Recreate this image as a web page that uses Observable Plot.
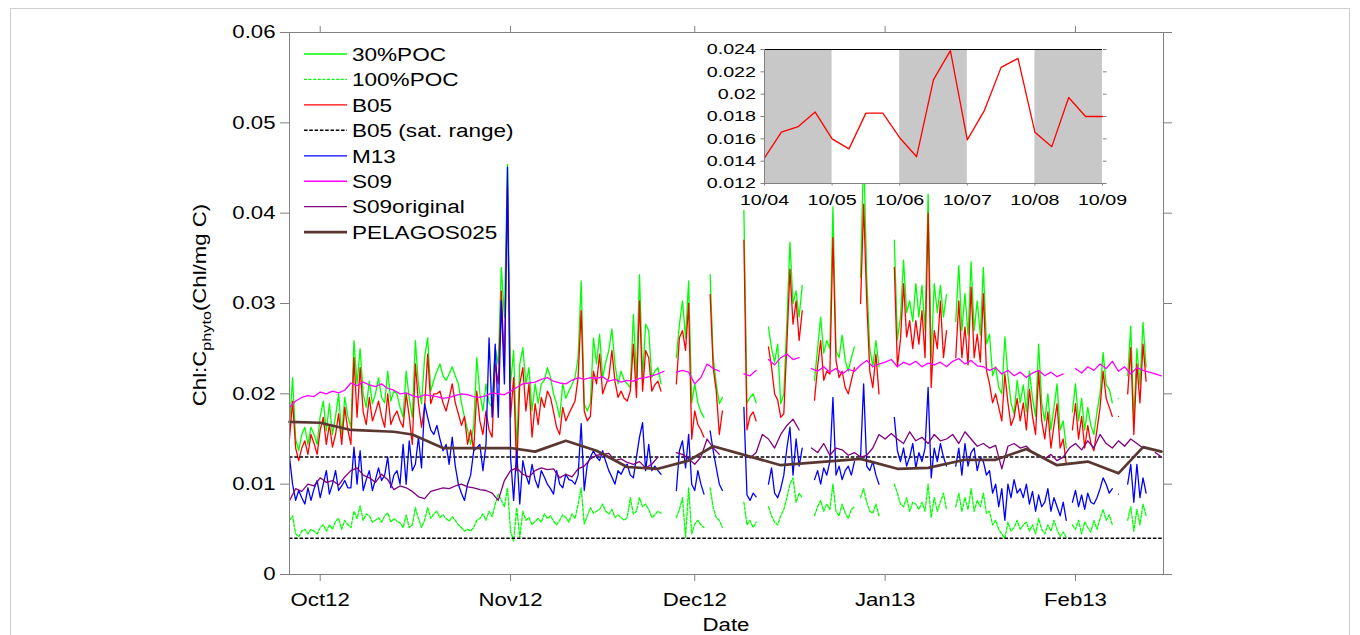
<!DOCTYPE html>
<html>
<head>
<meta charset="utf-8">
<script src="https://cdn.jsdelivr.net/npm/d3@7"></script>
<script src="https://cdn.jsdelivr.net/npm/@observablehq/plot@0.6"></script>
<style>
  html, body { margin:0; padding:0; background:#fff; overflow:hidden; }
  #wrap { position:relative; width:1360px; height:635px; overflow:hidden; background:#fff;
          font-family:"Liberation Sans", Arial, Helvetica, sans-serif; }
  #border { position:absolute; left:10px; top:8px; width:1340px; height:700px; border:1px solid #cfcfcf; box-sizing:border-box; }
  #main { position:absolute; left:0; top:0; }
  #overlay { position:absolute; left:0; top:0; pointer-events:none; }
  #inset { position:absolute; left:704px; top:43px; }
</style>
</head>
<body>
<div id="wrap">
  <div id="border"></div>
  <div id="main"></div>
  <svg id="overlay" width="1360" height="635"></svg>
  <div id="inset"></div>
</div>
<script>
// ---------------- DATA ----------------
// Fast series: one value every 12 h starting 2012-09-26 00:00 UTC (null = no data)
const startDate = "2012-09-26";
const fastStepHours = 12;
const dailyStepHours = 24;

const poc30 = [
/*d0*/   .0165,.0218, .0150,.0137, .0155,.0163, .0144,.0163, .0155,.0144,
/*d5*/   .0175,.0192, .0159,.0189, .0155,.0175, .0200,.0155, .0196,.0175,
/*d10*/  .0163,.0259, .0211,.0250, .0200,.0185, .0214,.0189, .0200,.0218,
/*d15*/  .0196,.0190, .0225,.0192, .0203,.0200, .0185,.0174, .0225,.0195,
/*d20*/  .0174,.0259, .0210,.0189, .0240,.0262, .0203,.0215, .0225,.0233,
/*d25*/  .0220,.0215, .0222,.0230, .0220,.0211, .0190,.0174, .0160,.0144,
/*d30*/  .0165,.0240, .0200,.0181, .0211,.0190, .0185,.0251, .0233,.0340,
/*d35*/  .0285,.0454, .0211,.0248, .0137,.0233, .0251,.0211, .0229,.0181,
/*d40*/  .0211,.0189, .0211,.0215, .0229,.0218, .0200,.0189, .0174,.0211,
/*d45*/  .0195,.0203, .0210,.0218, .0240,.0325, .0189,.0181, .0190,.0262,
/*d50*/  .0233,.0266, .0218,.0235, .0248,.0272, .0233,.0211, .0225,.0215,
/*d55*/  .0211,.0207, .0288,.0218, .0332,.0218, .0277,.0270, .0218,.0225,
/*d60*/  .0229,.0211, null,null, null,null, .0240,.0277, .0303,.0262,
/*d65*/  .0325,.0190, .0211,.0190, .0180,.0174, null,.0332, .0240,.0211,
/*d70*/  .0189,.0196, null,null, null,null, null,null, .0403,.0190,
/*d75*/  .0196,.0200, .0190,null, null,null, .0274,.0250, .0235,.0255,
/*d80*/  .0189,.0200, .0280,.0368, .0300,.0314, .0285,.0320, null,null,
/*d85*/  null,.0215, .0250,.0285, .0245,.0259, .0250,.0407, .0248,.0240,
/*d90*/  .0265,.0237, .0225,.0240, .0252,null, .0329,.0470, .0330,.0250,
/*d95*/  .0230,.0259, .0230,null, null,null, null,.0370, .0260,.0285,
/*d100*/ .0348,.0290, .0303,.0280, .0322,.0285, .0320,.0270, .0421,.0240,
/*d105*/ .0322,.0290, .0320,.0285, .0310,null, null,.0280, .0342,.0270,
/*d110*/ .0311,.0265, .0346,.0270, .0303,.0265, .0340,.0255, .0266,.0220,
/*d115*/ .0230,.0207, .0200,.0263, .0220,.0190, .0178,.0215, .0190,.0210,
/*d120*/ .0180,.0225, .0195,.0175, .0255,.0190, .0170,.0200, .0160,.0185,
/*d125*/ .0211,.0160, .0170,.0140, null,.0180, .0211,.0170, .0195,.0160,
/*d130*/ .0185,.0165, .0155,.0180, .0200,.0246, .0210,.0205, .0190,null,
/*d135*/ .0195,null, null,.0220, .0275,.0170, .0250,.0210, .0279,.0230
];

const poc100 = [
/*d0*/   .0060,.0065, .0045,.0042, .0048,.0050, .0045,.0050, .0048,.0045,
/*d5*/   .0052,.0055, .0048,.0055, .0050,.0059, .0062,.0050, .0060,.0055,
/*d10*/  .0052,.0070, .0062,.0076, .0060,.0067, .0065,.0058, .0060,.0063,
/*d15*/  .0058,.0065, .0068,.0058, .0062,.0059, .0057,.0052, .0066,.0052,
/*d20*/  .0055,.0074, .0062,.0052, .0060,.0074, .0062,.0067, .0070,.0063,
/*d25*/  .0066,.0062, .0059,.0064, .0060,.0055, .0052,.0048, .0050,.0048,
/*d30*/  .0052,.0060, .0062,.0067, .0060,.0070, .0064,.0078, .0089,.0082,
/*d35*/  .0075,.0096, .0048,.0037, .0074,.0041, .0070,.0060, .0063,.0055,
/*d40*/  .0059,.0062, .0058,.0067, .0062,.0065, .0059,.0055, .0060,.0066,
/*d45*/  .0063,.0058, .0067,.0062, .0078,.0096, .0056,.0065, .0074,.0068,
/*d50*/  .0070,.0072, .0078,.0070, .0067,.0072, .0063,.0066, .0063,.0060,
/*d55*/  .0063,.0085, .0067,.0070, .0085,.0075, .0078,.0072, .0063,.0066,
/*d60*/  .0070,.0068, null,null, null,null, .0063,.0072, .0085,.0041,
/*d65*/  .0096,.0045, .0056,.0060, .0055,.0052, null,.0096, .0074,.0063,
/*d70*/  .0060,.0052, null,null, null,null, null,null, .0080,.0055,
/*d75*/  .0060,.0052, .0058,null, null,null, .0075,.0065, .0058,.0055,
/*d80*/  .0065,.0072, .0085,.0100, .0107,.0080, .0090,.0085, null,null,
/*d85*/  null,.0065, .0075,.0082, .0070,.0078, .0072,.0100, .0070,.0065,
/*d90*/  .0078,.0068, .0062,.0072, .0075,null, .0085,.0095, .0080,.0070,
/*d95*/  .0068,.0078, .0065,null, null,null, null,.0100, .0090,.0078,
/*d100*/ .0075,.0085, .0070,.0080, .0078,.0072, .0080,.0070, .0100,.0063,
/*d105*/ .0085,.0070, .0080,.0090, .0072,null, null,.0075, .0090,.0070,
/*d110*/ .0085,.0072, .0095,.0070, .0082,.0075, .0090,.0068, .0070,.0055,
/*d115*/ .0060,.0050, .0045,.0040, .0058,.0048, .0052,.0060, .0050,.0055,
/*d120*/ .0058,.0048, .0055,.0045, .0062,.0050, .0045,.0055, .0048,.0060,
/*d125*/ .0050,.0042, .0047,.0041, null,.0055, .0050,.0060, .0045,.0058,
/*d130*/ .0052,.0047, .0060,.0050, .0062,.0072, .0060,.0066, .0055,null,
/*d135*/ .0058,null, null,.0060, .0075,.0048, .0072,.0055, .0078,.0065
];

const b05 = [
/*d0*/   .0150,.0192, .0140,.0126, .0140,.0148, .0133,.0155, .0145,.0133,
/*d5*/   .0160,.0174, .0144,.0166, .0141,.0155, .0178,.0144, .0185,.0160,
/*d10*/  .0144,.0240, .0174,.0229, .0180,.0166, .0196,.0170, .0180,.0192,
/*d15*/  .0175,.0163, .0200,.0166, .0175,.0181, .0170,.0163, .0200,.0175,
/*d20*/  .0144,.0233, .0190,.0163, .0185,.0244, .0189,.0200, .0200,.0203,
/*d25*/  .0190,.0181, .0195,.0211, .0190,.0178, .0165,.0175, .0144,.0160,
/*d30*/  .0137,.0203, .0170,.0155, .0181,.0160, .0152,.0233, .0211,.0314,
/*d35*/  .0230,.0430, .0174,.0218, .0115,.0211, .0229,.0181, .0211,.0152,
/*d40*/  .0189,.0166, .0196,.0185, .0203,.0196, .0180,.0163, .0155,.0185,
/*d45*/  .0170,.0178, .0185,.0192, .0218,.0292, .0181,.0170, .0175,.0225,
/*d50*/  .0211,.0244, .0200,.0210, .0218,.0248, .0214,.0196, .0203,.0195,
/*d55*/  .0192,.0203, .0255,.0196, .0303,.0203, .0248,.0240, .0203,.0210,
/*d60*/  .0214,.0203, null,null, null,null, .0211,.0262, .0270,.0248,
/*d65*/  .0300,.0150, .0181,.0166, .0160,.0152, null,.0310, .0229,.0203,
/*d70*/  .0155,.0181, null,null, null,null, null,null, .0370,.0160,
/*d75*/  .0175,.0180, .0170,null, null,null, .0252,.0230, .0200,.0193,
/*d80*/  .0174,.0178, .0255,.0338, .0277,.0303, .0259,.0292, null,null,
/*d85*/  null,.0193, .0230,.0259, .0215,.0225, .0222,.0373, .0237,.0218,
/*d90*/  .0225,.0207, .0200,.0215, .0229,null, .0300,.0410, .0303,.0225,
/*d95*/  .0207,.0244, .0200,null, null,null, null,.0340, .0230,.0260,
/*d100*/ .0322,.0263, .0281,.0250, .0281,.0255, .0292,.0240, .0400,.0207,
/*d105*/ .0270,.0250, .0303,.0240, .0270,null, null,.0240, .0303,.0240,
/*d110*/ .0274,.0232, .0318,.0240, .0266,.0235, .0311,.0226, .0211,.0190,
/*d115*/ .0200,.0185, .0170,.0222, .0190,.0165, .0174,.0195, .0170,.0190,
/*d120*/ .0160,.0205, .0175,.0155, .0225,.0170, .0150,.0180, .0140,.0165,
/*d125*/ .0189,.0140, .0150,.0122, null,.0160, .0189,.0150, .0175,.0140,
/*d130*/ .0165,.0145, .0137,.0160, .0185,.0225, .0195,.0185, .0175,null,
/*d135*/ .0175,null, null,.0200, .0251,.0155, .0233,.0190, .0255,.0214
];

const m13 = [
/*d0*/   .0130,.0100, .0082,.0093, .0085,.0078, .0096,.0082, .0095,.0104,
/*d5*/   .0085,.0100, .0115,.0089, .0100,.0115, .0093,.0098, .0104,.0096,
/*d10*/  .0096,.0141, .0100,.0137, .0093,.0105, .0115,.0093, .0105,.0118,
/*d15*/  .0104,.0110, .0130,.0096, .0110,.0115, .0100,.0144, .0100,.0148,
/*d20*/  .0115,.0122, .0152,.0118, .0189,.0174, .0160,.0155, .0165,.0150,
/*d25*/  .0137,.0144, .0122,.0152, .0120,.0100, .0090,.0082, .0100,.0110,
/*d30*/  .0137,.0140, .0144,.0115, .0144,.0262, .0174,.0255, .0174,.0303,
/*d35*/  .0211,.0451, .0130,.0082, .0137,.0078, .0126,.0110, .0100,.0122,
/*d40*/  .0105,.0096, .0115,.0108, .0100,.0095, .0089,.0115, .0100,.0096,
/*d45*/  .0111,.0105, .0104,.0100, .0110,.0167, .0093,.0122, .0130,.0137,
/*d50*/  .0130,.0126, .0137,.0125, .0115,.0108, .0100,.0115, .0111,.0118,
/*d55*/  .0122,.0110, .0107,.0130, .0152,.0168, .0115,.0144, .0115,.0120,
/*d60*/  .0115,.0111, null,null, null,null, .0093,.0137, .0148,.0118,
/*d65*/  .0155,.0100, .0093,.0115, .0100,.0089, null,.0159, .0137,.0118,
/*d70*/  .0100,.0093, null,null, null,null, null,null, .0185,.0088,
/*d75*/  .0082,.0090, .0086,null, null,null, .0100,.0118, .0090,.0085,
/*d80*/  .0095,.0110, .0140,.0163, .0110,.0150, .0120,.0140, null,null,
/*d85*/  null,.0105, .0115,.0100, .0118,.0110, .0125,.0196, .0110,.0120,
/*d90*/  .0105,.0115, .0120,.0110, .0125,null, .0130,.0211, .0120,.0115,
/*d95*/  .0125,.0110, .0100,null, null,null, null,.0174, .0137,.0125,
/*d100*/ .0140,.0120, .0130,.0145, .0118,.0135, .0125,.0140, .0207,.0107,
/*d105*/ .0140,.0125, .0145,.0130, .0120,null, null,.0120, .0140,.0110,
/*d110*/ .0145,.0120, .0135,.0140, .0115,.0130, .0125,.0110, .0115,.0090,
/*d115*/ .0100,.0075, .0095,.0060, .0100,.0085, .0105,.0090, .0095,.0085,
/*d120*/ .0100,.0078, .0092,.0070, .0088,.0075, .0080,.0095, .0070,.0085,
/*d125*/ .0075,.0065, .0080,.0060, null,.0080, .0093,.0075, .0088,.0072,
/*d130*/ .0090,.0080, .0078,.0085, .0095,.0107, .0100,.0090, .0095,null,
/*d135*/ .0089,null, null,.0100, .0122,.0080, .0122,.0085, .0107,.0090
];

// Daily series (one value per day from 2012-09-26)
const s09 = [
/*d0*/   .0185,.0192,.0196,.0198,.0197,
/*d5*/   .0202,.0200,.0203,.0201,.0204,
/*d10*/  .0212,.0209,.0213,.0210,.0208,
/*d15*/  .0211,.0206,.0204,.0200,.0201,
/*d20*/  .0198,.0196,.0199,.0198,.0197,
/*d25*/  .0195,.0196,.0198,.0200,.0199,
/*d30*/  .0197,.0196,.0198,.0201,.0200,
/*d35*/  .0199,.0203,.0207,.0211,.0212,
/*d40*/  .0213,.0216,.0218,.0214,.0212,
/*d45*/  .0211,.0215,.0218,.0216,.0218,
/*d50*/  .0217,.0219,.0214,.0216,.0213,
/*d55*/  .0215,.0214,.0217,.0218,.0220,
/*d60*/  .0222,.0225,null,.0224,.0226,
/*d65*/  .0224,.0211,.0218,.0233,.0228,
/*d70*/  .0225,null,null,null,.0222,
/*d75*/  .0220,.0226,null,.0238,.0232,
/*d80*/  .0240,.0244,.0238,.0240,null,
/*d85*/  .0228,.0225,.0230,.0224,.0228,
/*d90*/  .0222,.0227,.0225,.0232,.0237,
/*d95*/  .0230,.0233,.0235,.0238,.0230,
/*d100*/ .0235,.0232,.0236,.0230,.0234,
/*d105*/ .0232,.0235,.0230,.0236,.0239,
/*d110*/ .0233,.0237,.0231,.0230,.0226,
/*d115*/ .0229,.0222,.0226,.0220,.0224,
/*d120*/ .0218,.0223,.0226,.0220,.0224,
/*d125*/ .0219,.0222,null,.0228,.0223,
/*d130*/ .0230,.0226,.0233,.0228,.0236,
/*d135*/ .0225,.0230,.0222,.0229,.0226,
/*d140*/ .0224,.0222,.0220
];

const s09original = [
/*d0*/   .0082,.0095,.0092,.0100,.0098,
/*d5*/   .0107,.0102,.0104,.0099,.0108,
/*d10*/  .0115,.0118,.0110,.0107,.0102,
/*d15*/  .0111,.0105,.0094,.0098,.0096,
/*d20*/  .0092,.0086,.0084,.0092,.0094,
/*d25*/  .0096,.0095,.0098,.0100,.0097,
/*d30*/  .0096,.0094,.0093,.0090,.0082,
/*d35*/  .0104,.0115,.0118,.0111,.0108,
/*d40*/  .0115,.0118,.0116,.0117,.0107,
/*d45*/  .0111,.0108,.0117,.0120,.0128,
/*d50*/  .0132,.0133,.0134,.0126,.0128,
/*d55*/  .0124,.0122,.0125,.0118,.0122,
/*d60*/  .0130,null,null,.0135,.0133,
/*d65*/  .0128,.0122,.0130,.0150,.0140,
/*d70*/  .0133,null,null,null,.0132,
/*d75*/  .0129,.0135,.0155,.0150,.0140,
/*d80*/  .0155,.0165,.0172,.0160,null,
/*d85*/  .0140,.0135,.0145,.0132,.0140,
/*d90*/  .0138,.0132,.0135,.0130,.0132,
/*d95*/  .0140,.0155,.0150,.0156,.0150,
/*d100*/ .0145,.0158,.0148,.0152,.0145,
/*d105*/ .0155,.0148,.0150,.0155,.0145,
/*d110*/ .0158,.0150,.0142,.0145,.0140,
/*d115*/ .0143,.0117,.0142,.0145,.0140,
/*d120*/ .0142,.0135,.0132,.0128,.0133,
/*d125*/ .0126,.0130,.0140,.0145,.0138,
/*d130*/ .0148,.0140,.0155,.0145,.0140,
/*d135*/ .0148,.0142,.0150,.0145,.0140,
/*d140*/ null,.0135,.0130
];

const satRange = [0.004, 0.013];   // B05 (sat. range)

const pelagosDates = ["2012-09-26","2012-10-01","2012-10-06","2012-10-13","2012-10-16","2012-10-21",
  "2012-11-01","2012-11-05","2012-11-10","2012-11-15","2012-11-20","2012-11-25","2012-11-30",
  "2012-12-04","2012-12-15","2012-12-28","2013-01-03","2013-01-08","2013-01-14","2013-01-19",
  "2013-01-24","2013-01-29","2013-02-03","2013-02-08","2013-02-12","2013-02-15"];
const pelagosValues = [.0169,.0168,.0160,.0158,.0155,.0140,
  .0140,.0136,.0148,.0137,.0119,.0117,.0126,
  .0142,.0121,.0128,.0117,.0118,.0127,.0127,
  .0139,.0121,.0125,.0112,.0141,.0136];

const xTickDates = ["2012-10-01","2012-11-01","2012-12-01","2013-01-01","2013-02-01"];
const xTickLabels = ["Oct12","Nov12","Dec12","Jan13","Feb13"];
const yTicks = [0, 0.01, 0.02, 0.03, 0.04, 0.05, 0.06];
const yTickLabels = ["0","0.01","0.02","0.03","0.04","0.05","0.06"];

// Inset: B05 every 6 h from 2012-10-04 00:00
const insetStart = "2012-10-04";
const insetStepHours = 6;
const insetB05 = [.0143,.0166,.0171,.0184,.0160,.0151,.0183,.0183,.0161,.0144,.0213,
                  .0239,.0159,.0185,.0224,.0232,.0166,.0153,.0197,.0180,.0180];
const insetTickDates = ["2012-10-04","2012-10-05","2012-10-06","2012-10-07","2012-10-08","2012-10-09"];
const insetTickLabels = ["10/04","10/05","10/06","10/07","10/08","10/09"];
const insetYTicks = [0.012, 0.014, 0.016, 0.018, 0.020, 0.022, 0.024];
const insetYTickLabels = ["0.012","0.014","0.016","0.018","0.02","0.022","0.024"];
const shadeStarts = ["2012-10-04","2012-10-06","2012-10-08"];
const shadeEnds   = ["2012-10-05","2012-10-07","2012-10-09"];

const legendNames = ["30%POC","100%POC","B05","B05 (sat. range)","M13","S09","S09original","PELAGOS025"];

// ---------------- STYLES ----------------
const C = { poc30:"#00ff00", poc100:"#00ff00", b05:"#ff0000", sat:"#000000", m13:"#0000ff",
            s09:"#ff00ff", s09o:"#800080", pel:"#5a3631" };
const legendColors = [C.poc30, C.poc100, C.b05, C.sat, C.m13, C.s09, C.s09o, C.pel];
const legendDash = [null, "3,1.6", null, "3.5,1.8", null, null, null, null];
const legendWidths = [1.3, 1.3, 1.3, 1.5, 1.3, 1.3, 1.3, 2.6];
const FONT = '"Liberation Sans", Arial, Helvetica, sans-serif';
const STRETCH = 1.2;        // horizontal glyph stretch of the original figure
const INSET_STRETCH = 1.27;

// ---------------- BUILD ----------------
const toDate = s => new Date(s + "T00:00:00Z");
const HOUR = 3600e3;
const t0 = +toDate(startDate);
const series = (vals, stepH, start = t0) => vals.map((v, i) => ({date: new Date(start + i * stepH * HOUR), value: v}));
const labeler = (ticks, labels) => d => {
  const i = ticks.findIndex(t => Math.abs(+t - +d) < 1e-9);
  return i < 0 ? "" : labels[i];
};
function stretchText(root, k) {
  root.querySelectorAll("text").forEach(t => {
    const ax = parseFloat(t.getAttribute("x")) || 0;
    const tr = t.getAttribute("transform") || "";
    t.setAttribute("transform", `${tr} translate(${ax},0) scale(${k},1) translate(${-ax},0)`);
  });
}

const xTicks = xTickDates.map(toDate);
const lineOpts = (stroke, extra = {}) => ({x: "date", y: "value", stroke, strokeWidth: 1.3, ...extra});

const mainPlot = Plot.plot({
  width: 1360, height: 635,
  marginLeft: 289, marginRight: 197, marginTop: 32, marginBottom: 61,
  style: {fontFamily: FONT, fontSize: "18.5px", background: "transparent", color: "#000", overflow: "visible"},
  x: {type: "utc", domain: [toDate(startDate), new Date(Date.UTC(2013, 1, 15, 8))]},
  y: {domain: [0, 0.06]},
  marks: [
    Plot.line(series(poc30, fastStepHours), lineOpts(C.poc30)),
    Plot.line(series(poc100, fastStepHours), lineOpts(C.poc100, {strokeDasharray: "3,1.6"})),
    Plot.line(series(b05, fastStepHours), lineOpts(C.b05)),
    Plot.ruleY(satRange, {stroke: C.sat, strokeWidth: 1.5, strokeDasharray: "3.5,1.8"}),
    Plot.line(series(m13, fastStepHours), lineOpts(C.m13)),
    Plot.line(series(s09, dailyStepHours), lineOpts(C.s09)),
    Plot.line(series(s09original, dailyStepHours), lineOpts(C.s09o)),
    Plot.line(pelagosDates.map((d, i) => ({date: toDate(d), value: pelagosValues[i]})), lineOpts(C.pel, {strokeWidth: 2.7})),
    Plot.frame({stroke: "#808080"}),
    Plot.axisY({ticks: yTicks, tickFormat: labeler(yTicks, yTickLabels), tickSize: 9, tickPadding: 5, stroke: "#808080", fill: "#000", label: null}),
    Plot.axisY({anchor: "right", ticks: yTicks, tickFormat: () => "", tickSize: 8, stroke: "#808080", label: null}),
    Plot.axisX({ticks: xTicks, tickFormat: labeler(xTicks, xTickLabels), tickSize: 7, tickPadding: 11, stroke: "#808080", fill: "#000", label: null}),
    Plot.axisX({anchor: "top", ticks: xTicks, tickFormat: () => "", tickSize: 7, stroke: "#808080", label: null})
  ]
});
stretchText(mainPlot, STRETCH);
document.getElementById("main").appendChild(mainPlot);

// Inset
const insetTicks = insetTickDates.map(toDate);
const insetPlot = Plot.plot({
  width: 418, height: 170,
  marginLeft: 60, marginRight: 20, marginTop: 6, marginBottom: 30,
  style: {fontFamily: FONT, fontSize: "15.5px", background: "transparent", color: "#000", overflow: "visible"},
  x: {type: "utc", domain: [insetTicks[0], insetTicks[insetTicks.length - 1]]},
  y: {domain: [0.012, 0.024]},
  marks: [
    Plot.frame({fill: "white", stroke: "none"}),
    Plot.rect(shadeStarts.map((s, i) => ({x1: toDate(s), x2: toDate(shadeEnds[i])})), {x1: "x1", x2: "x2", fill: "#c8c8c8"}),
    Plot.line(series(insetB05, insetStepHours, +toDate(insetStart)), {x: "date", y: "value", stroke: "#ff0000", strokeWidth: 1.3}),
    Plot.ruleY([0.024], {stroke: "#000", strokeWidth: 1}),
    Plot.ruleY([0.012], {stroke: "#808080"}),
    Plot.ruleX([insetTicks[0]], {stroke: "#808080"}),
    Plot.axisY({ticks: insetYTicks, tickFormat: labeler(insetYTicks, insetYTickLabels), tickSize: 3.5, tickPadding: 5, stroke: "#808080", fill: "#000", label: null}),
    Plot.axisY({anchor: "right", ticks: insetYTicks, tickFormat: () => "", tickSize: 3.5, stroke: "#808080", label: null}),
    Plot.axisX({ticks: insetTicks, tickFormat: labeler(insetTicks, insetTickLabels), tickSize: 2.5, tickPadding: 8, stroke: "#808080", fill: "#000", label: null})
  ]
});
stretchText(insetPlot, INSET_STRETCH);
document.getElementById("inset").appendChild(insetPlot);

// Overlay: legend, axis titles
const ov = d3.select("#overlay").style("font-family", FONT);
legendNames.forEach((name, i) => {
  const y = 54 + 25.45 * i;
  ov.append("line").attr("x1", 304).attr("x2", 347).attr("y1", y).attr("y2", y)
    .attr("stroke", legendColors[i]).attr("stroke-width", legendWidths[i])
    .attr("stroke-dasharray", legendDash[i]);
  ov.append("text").attr("x", 352).attr("y", y).attr("dy", "0.36em")
    .attr("transform", `translate(352,0) scale(${STRETCH},1) translate(-352,0)`)
    .style("font-size", "18.8px").text(name);
});
ov.append("text").attr("x", 726).attr("y", 631).attr("text-anchor", "middle")
  .attr("transform", `translate(726,0) scale(${STRETCH},1) translate(-726,0)`)
  .style("font-size", "18.5px").text("Date");
const yl = ov.append("text").attr("transform", `translate(206,305) rotate(-90) scale(${STRETCH},1)`)
  .attr("text-anchor", "middle").style("font-size", "18.5px");
yl.append("tspan").text("Chl:C");
yl.append("tspan").attr("dy", 5).style("font-size", "13.5px").text("phyto");
yl.append("tspan").attr("dy", -5).text("(Chl/mg C)");
</script>
</body>
</html>
